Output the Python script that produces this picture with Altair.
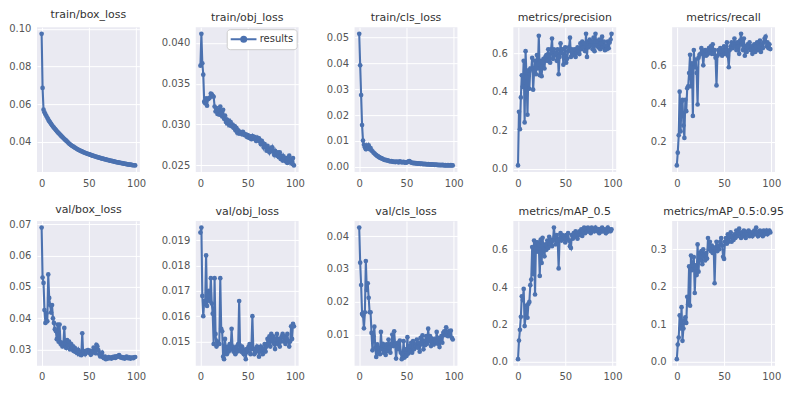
import altair as alt
import pandas as pd

BLUE = "#4C72B0"
EPOCHS = list(range(100))

TITLES = ["train/box_loss", "train/obj_loss", "train/cls_loss", "metrics/precision", "metrics/recall",
          "val/box_loss", "val/obj_loss", "val/cls_loss", "metrics/mAP_0.5", "metrics/mAP_0.5:0.95"]

train_box_loss = [0.0974, 0.0686, 0.0570, 0.0556, 0.0545, 0.0536, 0.0527, 0.0518, 0.0509, 0.0502,
                  0.0495, 0.0487, 0.0480, 0.0474, 0.0468, 0.0462, 0.0456, 0.0450, 0.0445, 0.0440,
                  0.0434, 0.0429, 0.0424, 0.0419, 0.0414, 0.0409, 0.0405, 0.0400, 0.0395, 0.0390,
                  0.0386, 0.0382, 0.0378, 0.0375, 0.0372, 0.0368, 0.0366, 0.0362, 0.0359, 0.0356,
                  0.0354, 0.0351, 0.0349, 0.0347, 0.0344, 0.0342, 0.0340, 0.0338, 0.0336, 0.0334,
                  0.0333, 0.0331, 0.0329, 0.0327, 0.0325, 0.0324, 0.0322, 0.0320, 0.0319, 0.0317,
                  0.0316, 0.0314, 0.0313, 0.0311, 0.0310, 0.0309, 0.0307, 0.0306, 0.0305, 0.0303,
                  0.0302, 0.0301, 0.0299, 0.0298, 0.0297, 0.0296, 0.0295, 0.0294, 0.0292, 0.0291,
                  0.0290, 0.0289, 0.0288, 0.0287, 0.0286, 0.0285, 0.0284, 0.0283, 0.0282, 0.0281,
                  0.0280, 0.0279, 0.0278, 0.0277, 0.0277, 0.0276, 0.0275, 0.0274, 0.0274, 0.0273]

train_obj_loss = [0.0372, 0.0411, 0.0375, 0.0361, 0.0328, 0.0326, 0.0332, 0.0323, 0.0331, 0.0332,
                  0.0333, 0.0338, 0.0337, 0.0335, 0.0334, 0.0322, 0.0316, 0.0320, 0.0313, 0.0318,
                  0.0312, 0.0322, 0.0314, 0.0310, 0.0318, 0.0307, 0.0311, 0.0303, 0.0306, 0.0301,
                  0.0305, 0.0299, 0.0303, 0.0298, 0.0300, 0.0296, 0.0298, 0.0293, 0.0296, 0.0290,
                  0.0293, 0.0289, 0.0291, 0.0290, 0.0288, 0.0291, 0.0289, 0.0287, 0.0288, 0.0285,
                  0.0287, 0.0284, 0.0286, 0.0283, 0.0282, 0.0286, 0.0283, 0.0285, 0.0282, 0.0280,
                  0.0284, 0.0281, 0.0283, 0.0279, 0.0276, 0.0280, 0.0277, 0.0272, 0.0276, 0.0273,
                  0.0268, 0.0274, 0.0270, 0.0266, 0.0271, 0.0268, 0.0272, 0.0267, 0.0263, 0.0268,
                  0.0264, 0.0262, 0.0266, 0.0260, 0.0266, 0.0258, 0.0262, 0.0256, 0.0261, 0.0257,
                  0.0255, 0.0259, 0.0253, 0.0258, 0.0262, 0.0254, 0.0257, 0.0252, 0.0259, 0.0250]

train_cls_loss = [0.0514, 0.0392, 0.0277, 0.0161, 0.0101, 0.0085, 0.0075, 0.0068, 0.0082, 0.0072,
                  0.0083, 0.0068, 0.0072, 0.0063, 0.0060, 0.0055, 0.0052, 0.0048, 0.0045, 0.0042,
                  0.0040, 0.0037, 0.0035, 0.0033, 0.0032, 0.0030, 0.0028, 0.0026, 0.0027, 0.0024,
                  0.0025, 0.0023, 0.0022, 0.0021, 0.0022, 0.0020, 0.0019, 0.0020, 0.0018, 0.0019,
                  0.0020, 0.0018, 0.0017, 0.0021, 0.0019, 0.0017, 0.0018, 0.0019, 0.0016, 0.0017,
                  0.0016, 0.0018, 0.0020, 0.0022, 0.0019, 0.0016, 0.0015, 0.0014, 0.0015, 0.0013,
                  0.0014, 0.0013, 0.0012, 0.0013, 0.0012, 0.0011, 0.0012, 0.0011, 0.0010, 0.0011,
                  0.0010, 0.0010, 0.0009, 0.0010, 0.0009, 0.0009, 0.0008, 0.0009, 0.0008, 0.0008,
                  0.0007, 0.0008, 0.0007, 0.0007, 0.0006, 0.0007, 0.0006, 0.0006, 0.0007, 0.0006,
                  0.0005, 0.0006, 0.0005, 0.0005, 0.0006, 0.0005, 0.0005, 0.0006, 0.0005, 0.0005]

precision = [0.017, 0.295, 0.205, 0.370, 0.485, 0.425, 0.560, 0.240, 0.610, 0.475,
             0.280, 0.510, 0.415, 0.520, 0.515, 0.575, 0.410, 0.500, 0.560, 0.490,
             0.590, 0.520, 0.690, 0.485, 0.560, 0.480, 0.550, 0.570, 0.520, 0.580,
             0.590, 0.560, 0.620, 0.585, 0.550, 0.620, 0.675, 0.570, 0.620, 0.590,
             0.600, 0.560, 0.620, 0.490, 0.580, 0.650, 0.600, 0.620, 0.540, 0.580,
             0.630, 0.550, 0.570, 0.610, 0.630, 0.680, 0.580, 0.620, 0.600, 0.590,
             0.620, 0.580, 0.600, 0.630, 0.610, 0.595, 0.650, 0.620, 0.660, 0.630,
             0.650, 0.610, 0.700, 0.580, 0.660, 0.630, 0.670, 0.640, 0.660, 0.620,
             0.680, 0.610, 0.700, 0.640, 0.660, 0.630, 0.670, 0.620, 0.650, 0.685,
             0.630, 0.660, 0.615, 0.640, 0.620, 0.660, 0.625, 0.655, 0.670, 0.700]

recall = [0.076, 0.143, 0.234, 0.462, 0.254, 0.410, 0.420, 0.285, 0.220, 0.420,
          0.360, 0.480, 0.490, 0.560, 0.655, 0.490, 0.610, 0.335, 0.680, 0.590,
          0.630, 0.560, 0.395, 0.640, 0.655, 0.660, 0.690, 0.670, 0.600, 0.660,
          0.680, 0.650, 0.670, 0.660, 0.690, 0.670, 0.700, 0.660, 0.710, 0.660,
          0.680, 0.640, 0.495, 0.650, 0.680, 0.660, 0.690, 0.670, 0.650, 0.680,
          0.700, 0.660, 0.680, 0.720, 0.650, 0.590, 0.680, 0.700, 0.720, 0.690,
          0.710, 0.740, 0.700, 0.680, 0.720, 0.700, 0.660, 0.730, 0.765, 0.710,
          0.680, 0.740, 0.650, 0.700, 0.670, 0.710, 0.690, 0.720, 0.680, 0.700,
          0.660, 0.690, 0.710, 0.670, 0.700, 0.720, 0.680, 0.700, 0.730, 0.670,
          0.710, 0.690, 0.720, 0.740, 0.750, 0.700, 0.720, 0.690, 0.710, 0.685]

val_box_loss = [0.0690, 0.0530, 0.0513, 0.0426, 0.0385, 0.0416, 0.0390, 0.0540, 0.0465, 0.0442,
                0.0418, 0.0442, 0.0400, 0.0385, 0.0365, 0.0359, 0.0333, 0.0380, 0.0325, 0.0380,
                0.0318, 0.0322, 0.0310, 0.0315, 0.0369, 0.0310, 0.0305, 0.0330, 0.0312, 0.0325,
                0.0300, 0.0318, 0.0302, 0.0310, 0.0295, 0.0305, 0.0292, 0.0300, 0.0288, 0.0298,
                0.0285, 0.0292, 0.0282, 0.0352, 0.0288, 0.0294, 0.0285, 0.0296, 0.0292, 0.0298,
                0.0290, 0.0296, 0.0283, 0.0287, 0.0295, 0.0306, 0.0292, 0.0288, 0.0315, 0.0310,
                0.0298, 0.0285, 0.0278, 0.0283, 0.0290, 0.0275, 0.0272, 0.0277, 0.0269, 0.0273,
                0.0271, 0.0276, 0.0272, 0.0274, 0.0271, 0.0276, 0.0274, 0.0277, 0.0273, 0.0278,
                0.0276, 0.0279, 0.0282, 0.0277, 0.0274, 0.0276, 0.0272, 0.0275, 0.0271, 0.0274,
                0.0277, 0.0273, 0.0272, 0.0275, 0.0271, 0.0273, 0.0274, 0.0272, 0.0275, 0.0276]

val_obj_loss = [0.0193, 0.0195, 0.0168, 0.0160, 0.0166, 0.0165, 0.0184, 0.0164, 0.0168, 0.0170,
                0.0166, 0.0175, 0.0165, 0.0161, 0.0149, 0.0175, 0.0153, 0.0148, 0.0150, 0.0149,
                0.0149, 0.0175, 0.0155, 0.0154, 0.0144, 0.0143, 0.0151, 0.0147, 0.0145, 0.0148,
                0.0146, 0.0149, 0.0147, 0.0155, 0.0148, 0.0146, 0.0147, 0.0145, 0.0148, 0.0146,
                0.0149, 0.0166, 0.0147, 0.0146, 0.0148, 0.0147, 0.0145, 0.0146, 0.0143, 0.0147,
                0.0146, 0.0148, 0.0149, 0.0145, 0.0148, 0.0160, 0.0147, 0.0145, 0.0147, 0.0146,
                0.0148, 0.0147, 0.0144, 0.0146, 0.0148, 0.0147, 0.0145, 0.0147, 0.0149, 0.0146,
                0.0148, 0.0151, 0.0149, 0.0152, 0.0148, 0.0153, 0.0150, 0.0152, 0.0149, 0.0147,
                0.0151, 0.0153, 0.0149, 0.0151, 0.0148, 0.0150, 0.0152, 0.0153, 0.0150, 0.0152,
                0.0149, 0.0151, 0.0153, 0.0150, 0.0148, 0.0150, 0.0156, 0.0151, 0.0157, 0.0156]

val_cls_loss = [0.0426, 0.0319, 0.0251, 0.0163, 0.0158, 0.0119, 0.0168, 0.0324, 0.0236, 0.0256,
                0.0212, 0.0168, 0.0168, 0.0105, 0.0052, 0.0095, 0.0124, 0.0060, 0.0032, 0.0070,
                0.0045, 0.0060, 0.0040, 0.0108, 0.0055, 0.0072, 0.0045, 0.0065, 0.0038, 0.0070,
                0.0050, 0.0085, 0.0060, 0.0045, 0.0072, 0.0100, 0.0065, 0.0110, 0.0070, 0.0027,
                0.0062, 0.0075, 0.0055, 0.0082, 0.0045, 0.0025, 0.0040, 0.0080, 0.0030, 0.0055,
                0.0035, 0.0092, 0.0042, 0.0065, 0.0050, 0.0075, 0.0045, 0.0080, 0.0055, 0.0070,
                0.0065, 0.0085, 0.0060, 0.0075, 0.0048, 0.0090, 0.0070, 0.0098, 0.0055, 0.0082,
                0.0068, 0.0095, 0.0072, 0.0118, 0.0080, 0.0095, 0.0065, 0.0088, 0.0075, 0.0070,
                0.0085, 0.0078, 0.0108, 0.0072, 0.0090, 0.0062, 0.0080, 0.0095, 0.0075, 0.0105,
                0.0110, 0.0098, 0.0122, 0.0105, 0.0095, 0.0110, 0.0102, 0.0112, 0.0090, 0.0085]

map50 = [0.012, 0.112, 0.170, 0.240, 0.350, 0.330, 0.390, 0.190, 0.240, 0.300,
         0.235, 0.310, 0.320, 0.410, 0.440, 0.615, 0.470, 0.650, 0.360, 0.640,
         0.590, 0.640, 0.625, 0.460, 0.655, 0.530, 0.665, 0.600, 0.565, 0.630,
         0.600, 0.650, 0.610, 0.670, 0.630, 0.655, 0.620, 0.650, 0.720, 0.670,
         0.630, 0.680, 0.650, 0.500, 0.660, 0.690, 0.650, 0.680, 0.660, 0.670,
         0.640, 0.680, 0.660, 0.690, 0.650, 0.620, 0.610, 0.680, 0.660, 0.690,
         0.670, 0.700, 0.680, 0.660, 0.690, 0.700, 0.680, 0.710, 0.675, 0.700,
         0.720, 0.690, 0.710, 0.700, 0.720, 0.700, 0.710, 0.690, 0.720, 0.700,
         0.710, 0.700, 0.720, 0.710, 0.700, 0.710, 0.690, 0.710, 0.700, 0.720,
         0.700, 0.710, 0.700, 0.690, 0.710, 0.720, 0.700, 0.710, 0.700, 0.710]

map50_95 = [0.006, 0.045, 0.064, 0.123, 0.088, 0.145, 0.055, 0.088, 0.110, 0.118,
            0.103, 0.173, 0.153, 0.254, 0.149, 0.283, 0.244, 0.257, 0.279, 0.183,
            0.257, 0.231, 0.313, 0.240, 0.290, 0.270, 0.295, 0.260, 0.300, 0.285,
            0.270, 0.290, 0.275, 0.330, 0.300, 0.320, 0.295, 0.310, 0.290, 0.305,
            0.209, 0.300, 0.320, 0.295, 0.310, 0.300, 0.320, 0.330, 0.310, 0.280,
            0.274, 0.320, 0.330, 0.315, 0.340, 0.320, 0.335, 0.345, 0.320, 0.335,
            0.325, 0.340, 0.330, 0.350, 0.335, 0.345, 0.355, 0.340, 0.330, 0.345,
            0.335, 0.350, 0.340, 0.330, 0.345, 0.340, 0.350, 0.335, 0.345, 0.340,
            0.335, 0.345, 0.350, 0.340, 0.358, 0.345, 0.335, 0.340, 0.350, 0.340,
            0.345, 0.335, 0.350, 0.340, 0.345, 0.350, 0.340, 0.345, 0.350, 0.345]

SERIES = [train_box_loss, train_obj_loss, train_cls_loss, precision, recall,
          val_box_loss, val_obj_loss, val_cls_loss, map50, map50_95]

Y_TICKS = [[0.04, 0.06, 0.08, 0.10], [0.025, 0.030, 0.035, 0.040], [0.0, 0.01, 0.02, 0.03, 0.04, 0.05],
           [0.0, 0.2, 0.4, 0.6], [0.2, 0.4, 0.6],
           [0.03, 0.04, 0.05, 0.06, 0.07], [0.014, 0.015, 0.016, 0.017, 0.018, 0.019],
           [0.01, 0.02, 0.03, 0.04], [0.0, 0.2, 0.4, 0.6], [0.0, 0.1, 0.2, 0.3]]
Y_FORMATS = [".2f", ".3f", ".2f", ".1f", ".1f", ".2f", ".3f", ".2f", ".1f", ".1f"]
X_TICKS = [0, 50, 100]

# legend glyph: a short line with a dot in its middle (matplotlib style)
LEGEND_SYMBOL = ("M-1,0L3.3,0M0.75,0A0.42,0.42,0,1,0,1.59,0A0.42,0.42,0,1,0,0.75,0Z")


def panel(i):
    vals = SERIES[i]
    df = pd.DataFrame({"epoch": EPOCHS, "value": vals, "series": "results"})
    lo, hi = min(vals), max(vals)
    pad = 0.05 * (hi - lo)
    xlo, xhi = min(EPOCHS), max(EPOCHS)
    xpad = 0.05 * (xhi - xlo)
    enc = dict(
        x=alt.X("epoch:Q", scale=alt.Scale(domain=[xlo - xpad, xhi + xpad], nice=False, zero=False),
                axis=alt.Axis(values=X_TICKS, format="d", title=None)),
        y=alt.Y("value:Q", scale=alt.Scale(domain=[lo - pad, hi + pad], nice=False, zero=False),
                axis=alt.Axis(values=Y_TICKS[i], format=Y_FORMATS[i], title=None)),
    )
    if i == 1:
        enc["color"] = alt.Color(
            "series:N", scale=alt.Scale(range=[BLUE]),
            legend=alt.Legend(title=None, orient="top-right", offset=2, padding=3,
                              fillColor="white", strokeColor="#cccccc", cornerRadius=3,
                              symbolType=LEGEND_SYMBOL, symbolSize=144, symbolStrokeWidth=2,
                              symbolFillColor=BLUE, symbolStrokeColor=BLUE,
                              labelFontSize=10, labelColor="#333333", labelOffset=16,
                              labelFont="DejaVu Sans"))
    return (
        alt.Chart(df)
        .mark_line(color=BLUE, strokeWidth=2.1,
                   point=alt.OverlayMarkDef(filled=True, size=22, color=BLUE))
        .encode(**enc)
        .properties(width=103, height=145, title=TITLES[i])
    )


chart = (
    alt.concat(*[panel(i) for i in range(10)], columns=5,
               spacing=alt.RowColnumber(row=49, column=56), bounds="flush")
    .resolve_legend(color="independent")
    .properties(padding=0, background="white")
    .configure_view(fill="#EAEAF2", stroke=None)
    .configure_axis(domain=False, ticks=False, gridColor="white", gridWidth=1, gridOpacity=1,
                    labelFont="DejaVu Sans", labelFontSize=10, labelColor="#555555", labelPadding=6)
    .configure_title(font="DejaVu Sans", fontSize=11, fontWeight="normal", color="#333333", offset=0)
)

chart.save("out.html", embed_options={"renderer": "svg", "actions": False})
